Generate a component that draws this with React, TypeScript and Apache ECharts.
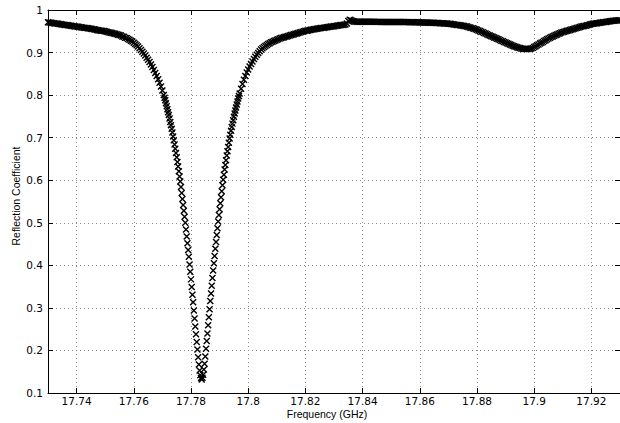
import React, { useEffect, useRef } from "react";
import * as echarts from "echarts";

// Frequency axis (GHz)
const xMin = 17.73;
const xMax = 17.93;
const xTicks = [17.74, 17.76, 17.78, 17.8, 17.82, 17.84, 17.86, 17.88, 17.9, 17.92];

// Reflection coefficient axis
const yMin = 0.1;
const yMax = 1;
const yStep = 0.1;

// Sweep segments: start frequency, frequency step, measured values
const leftShoulderStart = 17.73;
const leftShoulderStep = 0.0005;
const leftShoulderValues = [
  0.971, 0.9705, 0.970, 0.9695, 0.969, 0.9685, 0.968, 0.9675, 0.967, 0.9665,
  0.966, 0.9655, 0.965, 0.9645, 0.964, 0.9635, 0.963, 0.9625, 0.962, 0.9615,
  0.961, 0.9605, 0.960, 0.9595, 0.959, 0.9585, 0.958, 0.9575, 0.957, 0.9565,
  0.956, 0.9555, 0.955, 0.954, 0.953, 0.9525, 0.952, 0.9515, 0.951, 0.9505,
  0.950, 0.949, 0.948, 0.947, 0.9465, 0.946, 0.945, 0.944, 0.943, 0.942,
  0.941, 0.940, 0.938, 0.937, 0.935, 0.934, 0.932, 0.930, 0.928, 0.926,
  0.923, 0.920, 0.917, 0.914, 0.910, 0.906, 0.902, 0.898, 0.893, 0.888,
  0.883, 0.878, 0.872, 0.866, 0.859, 0.852, 0.845, 0.837, 0.829, 0.820,
  0.811,
];

const resonanceStart = 17.7705;
const resonanceStep = 0.00025;
const resonanceValues = [
  0.800, 0.794, 0.788, 0.781, 0.774, 0.767, 0.760, 0.753, 0.745, 0.737,
  0.729, 0.721, 0.712, 0.703, 0.694, 0.684, 0.674, 0.664, 0.654, 0.643,
  0.632, 0.621, 0.609, 0.597, 0.584, 0.570, 0.556, 0.542, 0.528, 0.514,
  0.500, 0.484, 0.468, 0.452, 0.436, 0.420, 0.402, 0.385, 0.367, 0.349,
  0.331, 0.313, 0.294, 0.275, 0.256, 0.238, 0.220, 0.202, 0.184, 0.167,
  0.153, 0.142, 0.135, 0.132, 0.136, 0.143, 0.155, 0.169, 0.186, 0.204,
  0.222, 0.240, 0.259, 0.278, 0.297, 0.316, 0.334, 0.352, 0.370, 0.388,
  0.405, 0.422, 0.439, 0.455, 0.471, 0.487, 0.503, 0.518, 0.532, 0.546,
  0.560, 0.574, 0.588, 0.601, 0.613, 0.625, 0.636, 0.647, 0.658, 0.668,
  0.678, 0.688, 0.698, 0.707, 0.716, 0.725, 0.733, 0.741, 0.749, 0.757,
  0.764, 0.771, 0.778, 0.785, 0.792, 0.798, 0.804,
];

const rightShoulderStart = 17.7975;
const rightShoulderStep = 0.0005;
const rightShoulderValues = [
  0.815, 0.826, 0.836, 0.845, 0.853, 0.860, 0.867, 0.873, 0.879, 0.885,
  0.890, 0.895, 0.899, 0.903, 0.907, 0.910, 0.913, 0.9155, 0.918, 0.920,
  0.922, 0.924, 0.9255, 0.927, 0.9285, 0.930, 0.9315, 0.933, 0.934, 0.935,
  0.936, 0.937, 0.938, 0.939, 0.940, 0.941, 0.942, 0.943, 0.944, 0.945,
  0.946, 0.947, 0.948, 0.949, 0.950, 0.951, 0.9515, 0.952, 0.953, 0.9535,
  0.954, 0.955, 0.9555, 0.956, 0.9565, 0.957, 0.9575, 0.958, 0.9585, 0.959,
  0.9595, 0.960, 0.9605, 0.961, 0.9615, 0.962, 0.9625, 0.963, 0.9635, 0.964,
  0.9645, 0.965, 0.9655, 0.966,
];

const plateauStart = 17.8345;
const plateauStep = 0.0005;
const plateauValues = [
  0.968, 0.974, 0.977, 0.976, 0.974, 0.973, 0.9725,
  0.9725, 0.9725, 0.9725, 0.9724, 0.9724, 0.9724, 0.9723, 0.9723, 0.9723, 0.9722,
  0.9722, 0.9722, 0.9722, 0.9721, 0.9721, 0.9721, 0.9721, 0.972, 0.972, 0.972,
  0.972, 0.972, 0.9719, 0.9719, 0.9719, 0.9719, 0.9718, 0.9718, 0.9718, 0.9717,
  0.9717, 0.9717, 0.9716, 0.9716, 0.9716, 0.9715, 0.9715, 0.9714, 0.9714, 0.9713,
  0.9713, 0.9712, 0.9711, 0.971, 0.9709, 0.9708, 0.9707, 0.9706, 0.9705, 0.9704,
  0.9703, 0.9702, 0.9701, 0.97, 0.9698, 0.9696, 0.9694, 0.9692, 0.969, 0.9688,
  0.9686, 0.9684, 0.9682, 0.968, 0.9678,
];

const secondDipStart = 17.8705;
const secondDipStep = 0.0005;
const secondDipValues = [
  0.9675, 0.967, 0.9665, 0.966, 0.9655, 0.965, 0.9645, 0.964, 0.9635, 0.963,
  0.9625, 0.962, 0.961, 0.960, 0.959, 0.958, 0.957, 0.956, 0.955, 0.9535,
  0.952, 0.9505, 0.949, 0.9475, 0.946, 0.9445, 0.943, 0.9415, 0.940, 0.9385,
  0.937, 0.9355, 0.934, 0.9325, 0.931, 0.9295, 0.928, 0.9265, 0.925, 0.9235,
  0.922, 0.9205, 0.919, 0.9175, 0.916, 0.9148, 0.9136, 0.9125, 0.9115, 0.9105,
  0.9097, 0.909, 0.9085, 0.9082, 0.9082, 0.9085, 0.909, 0.9098, 0.911, 0.913,
  0.915, 0.917, 0.919, 0.921, 0.923, 0.925, 0.927, 0.929, 0.931, 0.933,
  0.935, 0.9365, 0.938, 0.9395, 0.941, 0.9425, 0.944, 0.9455, 0.947, 0.948,
  0.949, 0.950, 0.951, 0.952, 0.953, 0.954, 0.955, 0.956, 0.957, 0.958,
  0.959, 0.960, 0.961, 0.962, 0.9625, 0.963, 0.964, 0.965, 0.966, 0.967,
  0.9675, 0.968, 0.9685, 0.969, 0.9695, 0.970, 0.9705, 0.971, 0.9715, 0.972,
  0.9725, 0.973, 0.9735, 0.974, 0.9745, 0.975, 0.9752, 0.9755, 0.9757, 0.976,
];

const segments: [number, number, number[]][] = [
  [leftShoulderStart, leftShoulderStep, leftShoulderValues],
  [resonanceStart, resonanceStep, resonanceValues],
  [rightShoulderStart, rightShoulderStep, rightShoulderValues],
  [plateauStart, plateauStep, plateauValues],
  [secondDipStart, secondDipStep, secondDipValues],
];

const xLabel = "Frequency (GHz)";
const yLabel = "Reflection Coefficient";

function buildPoints(): number[][] {
  const pts: number[][] = [];
  segments.forEach(([start, step, values]) => {
    values.forEach((v, i) => pts.push([+(start + i * step).toFixed(5), v]));
  });
  return pts;
}

const tickFont = { fontFamily: "'DejaVu Sans', sans-serif", fontSize: 10.5, color: "#000" };
const gridLine = { show: true, lineStyle: { color: "#8a8a8a", width: 1, type: [1, 3] as any } };

export default function App() {
  const ref = useRef<HTMLDivElement>(null);
  useEffect(() => {
    document.body.style.margin = "0";
    if (!ref.current) return;
    const chart = echarts.init(ref.current, undefined, { renderer: "svg" });
    const axisLine = { show: true, onZero: false, lineStyle: { color: "#000", width: 1 } };
    const option: any = {
      animation: false,
      backgroundColor: "#fff",
      grid: { left: 48, top: 10, width: 574, height: 383, containLabel: false },
      xAxis: [
        {
          type: "value",
          min: xMin,
          max: xMax,
          position: "bottom",
          axisLine,
          axisTick: { show: true, inside: true, length: 5, customValues: xTicks, lineStyle: { color: "#000" } },
          axisLabel: {
            ...tickFont,
            customValues: xTicks,
            margin: 2,
            formatter: (v: number) => String(parseFloat(v.toFixed(2))),
          },
          splitLine: gridLine,
        },
        {
          type: "value",
          min: xMin,
          max: xMax,
          position: "top",
          axisLine,
          axisTick: { show: true, inside: true, length: 5, customValues: xTicks, lineStyle: { color: "#000" } },
          axisLabel: { show: false },
          splitLine: { show: false },
        },
      ],
      yAxis: [
        {
          type: "value",
          min: yMin,
          max: yMax,
          interval: yStep,
          position: "left",
          axisLine,
          axisTick: { show: true, inside: true, length: 5, lineStyle: { color: "#000" } },
          axisLabel: {
            ...tickFont,
            margin: 5,
            formatter: (v: number) => String(parseFloat(v.toFixed(1))),
          },
          splitLine: gridLine,
        },
        {
          type: "value",
          min: yMin,
          max: yMax,
          interval: yStep,
          position: "right",
          axisLine,
          axisTick: { show: true, inside: true, length: 5, lineStyle: { color: "#000" } },
          axisLabel: { show: false },
          splitLine: { show: false },
        },
      ],
      graphic: [
        {
          type: "text",
          x: 327,
          y: 414,
          style: {
            text: xLabel,
            fill: "#000",
            font: "10.5px 'Liberation Sans', Arial, sans-serif",
            align: "center",
            verticalAlign: "middle",
          },
        },
        {
          type: "text",
          x: 16,
          y: 196,
          rotation: Math.PI / 2,
          style: {
            text: yLabel,
            fill: "#000",
            font: "10.5px 'Liberation Sans', Arial, sans-serif",
            align: "center",
            verticalAlign: "middle",
          },
        },
      ],
      series: [
        {
          type: "scatter",
          xAxisIndex: 0,
          yAxisIndex: 0,
          data: buildPoints(),
          symbol: "path://M0,0L10,10M10,0L0,10",
          symbolSize: 6,
          silent: true,
          itemStyle: { color: "transparent", borderColor: "#000", borderWidth: 1.4, opacity: 1 },
        },
      ],
    };
    chart.setOption(option);
    return () => chart.dispose();
  }, []);
  return <div ref={ref} style={{ width: 620, height: 423 }} />;
}
